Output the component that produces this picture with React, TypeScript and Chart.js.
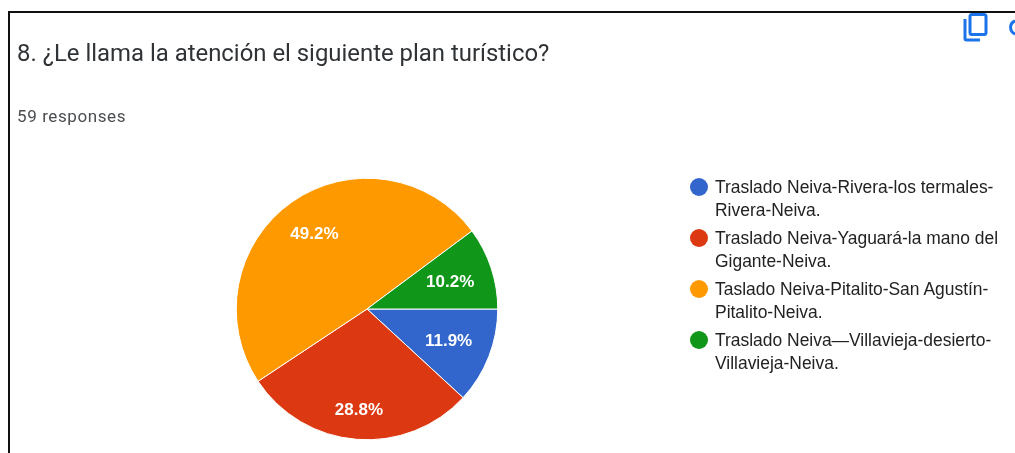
import React, { useEffect, useRef } from "react";
import { Chart, registerables } from "chart.js";

Chart.register(...registerables);

const titleText = "8. ¿Le llama la atención el siguiente plan turístico?";
const subtitleText = "59 responses";
const categories = [
  ["Traslado Neiva-Rivera-los termales-", "Rivera-Neiva."],
  ["Traslado Neiva-Yaguará-la mano del", "Gigante-Neiva."],
  ["Taslado Neiva-Pitalito-San Agustín-", "Pitalito-Neiva."],
  ["Traslado Neiva—Villavieja-desierto-", "Villavieja-Neiva."],
];
const responses = [7, 17, 29, 6];
const percentLabels = ["11.9%", "28.8%", "49.2%", "10.2%"];
const colors = ["#3366cc", "#dc3912", "#ff9900", "#109618"];
const labelRadii = [0.67, 0.77, 0.7, 0.67];

const sliceLabels = {
  id: "sliceLabels",
  afterDatasetsDraw(chart: any) {
    const { ctx } = chart;
    const meta = chart.getDatasetMeta(0);
    ctx.save();
    ctx.font = "bold 17px 'Liberation Sans'";
    ctx.fillStyle = "#ffffff";
    ctx.textAlign = "center";
    ctx.textBaseline = "middle";
    meta.data.forEach((arc: any, i: number) => {
      const mid = (arc.startAngle + arc.endAngle) / 2;
      const r = arc.outerRadius * labelRadii[i];
      ctx.fillText(percentLabels[i], arc.x + Math.cos(mid) * r, arc.y + Math.sin(mid) * r + 0.5);
    });
    ctx.restore();
  },
};

const abs = (o: React.CSSProperties): React.CSSProperties => ({ position: "absolute", whiteSpace: "nowrap", ...o });

export default function App() {
  const ref = useRef<HTMLCanvasElement | null>(null);
  useEffect(() => {
    document.body.style.margin = "0";
    document.body.style.background = "#fff";
    const chart = new Chart(ref.current!, {
      type: "pie",
      data: {
        labels: categories.map((c) => c.join(" ")),
        datasets: [{ data: responses, backgroundColor: colors, borderColor: "#ffffff", borderWidth: 1 }],
      },
      options: {
        animation: false,
        responsive: false,
        rotation: 90,
        layout: { padding: { left: 235.75, right: 516.75, top: 177.75, bottom: 12.75 } },
        plugins: { legend: { display: false }, tooltip: { enabled: false } },
      },
      plugins: [sliceLabels],
    });
    return () => chart.destroy();
  }, []);

  return (
    <div style={{ position: "relative", width: 1015, height: 453, overflow: "hidden", background: "#fff", filter: "blur(0.35px)" }}>
      <canvas ref={ref} width={1015} height={453} style={{ position: "absolute", left: 0, top: 0, width: 1015, height: 453 }} />
      <div style={abs({ left: 8, top: 11, width: 1007, height: 2, background: "#111" })} />
      <div style={abs({ left: 8, top: 11, width: 2, height: 442, background: "#111" })} />
      <div style={abs({ left: 17, top: 38, font: "400 23.9px Roboto", color: "#303336", lineHeight: "30px" })}>{titleText}</div>
      <div style={abs({ left: 17, top: 106, font: "400 17px Roboto", letterSpacing: "0.6px", color: "#4a4d50", lineHeight: "20px" })}>{subtitleText}</div>
      <svg style={{ position: "absolute", left: 960, top: 10 }} width={30} height={34} viewBox="0 0 30 34" fill="none" stroke="#1a73e8" strokeWidth={3}>
        <rect x={10} y={4.5} width={16} height={20} rx={2} />
        <path d="M5 9 V28.5 a1.5 1.5 0 0 0 1.5 1.5 H20" />
      </svg>
      <svg style={{ position: "absolute", left: 1004, top: 18 }} width={11} height={20} viewBox="0 0 11 20" fill="none" stroke="#1a73e8" strokeWidth={3}>
        <path d="M11 3 A7 7 0 0 0 11 16" />
      </svg>
      {categories.map((lines, i) => (
        <React.Fragment key={i}>
          <div style={abs({ left: 690, top: 178 + i * 51, width: 18, height: 18, borderRadius: "50%", background: colors[i] })} />
          <div style={abs({ left: 715, top: 175.5 + i * 51, font: "400 17.45px 'Liberation Sans'", color: "#222222", lineHeight: "23px" })}>
            {lines.map((l, j) => (
              <div key={j}>{l}</div>
            ))}
          </div>
        </React.Fragment>
      ))}
    </div>
  );
}
